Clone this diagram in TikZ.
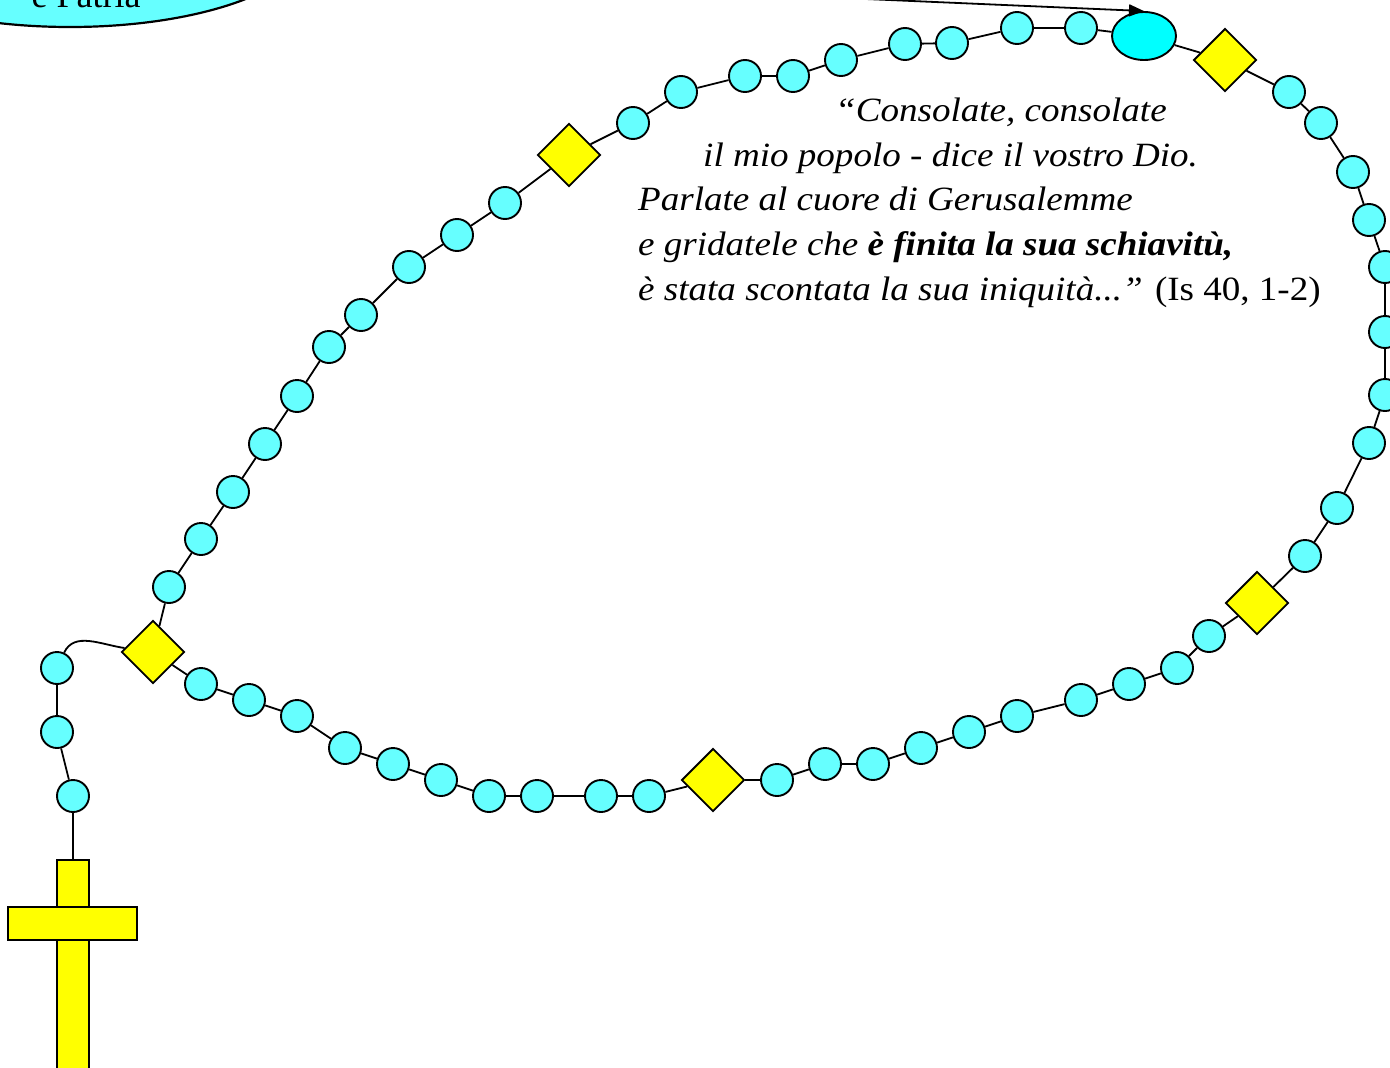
\documentclass[tikz,border=0pt]{standalone}
\usepackage{fontspec}
\setmainfont{Liberation Serif}
\newfontfamily\quotefont{Liberation Serif}[FakeStretch=1.09]
\usetikzlibrary{shapes.geometric,arrows.meta,backgrounds}

\definecolor{beadcyan}{HTML}{66FFFF}
\definecolor{bigcyan}{HTML}{00FFFF}
\definecolor{goldyellow}{HTML}{FFFF00}

\tikzset{
  bead/.style={circle,draw,line width=1.9pt,fill=beadcyan,minimum size=32pt,inner sep=0pt},
  bigbead/.style={ellipse,draw,line width=1.9pt,fill=bigcyan,minimum width=64pt,minimum height=48pt,inner sep=0pt},
  gloria/.style={diamond,draw,line width=1.9pt,fill=goldyellow,minimum size=63pt,inner sep=0pt},
  crossbar/.style={rectangle,draw,line width=1.9pt,fill=goldyellow,inner sep=0pt},
  string/.style={line width=1.8pt},
}

\begin{document}
\begin{tikzpicture}[x=1pt,y=-1pt]
  \useasboundingbox (0,0) rectangle (1390,1068);

  % label bubble, mostly above the page
  \node[ellipse,draw,line width=2.2pt,fill=beadcyan,minimum width=478pt,minimum height=174pt] (famiglia) at (70,-60) {};
  \node[anchor=base,inner sep=0pt,font=\fontsize{36}{40}\selectfont] (patria) at (86,7) {e Patria};

  % gloria beads
  \node[gloria] (d1) at (153,652) {};
  \node[gloria] (d2) at (569,155) {};
  \node[gloria] (d3) at (1225,60) {};
  \node[gloria] (d4) at (1257,603) {};
  \node[gloria] (d5) at (713,780) {};
  \node[bigbead] (big) at (1144,36) {};

  % decades
  \foreach \x/\y [count=\i] in {169/587, 201/539, 233/492, 265/444, 297/396,
      329/347, 361/315, 409/267, 457/235, 505/203,
      633/123, 681/92, 745/76, 793/76, 841/60,
      905/44, 952/43, 1017/28, 1081/28,
      1289/92, 1321/123, 1353/172, 1369/220, 1385/267,
      1385/332, 1385/395, 1369/443, 1337/508, 1305/556,
      1209/636, 1177/668, 1129/684, 1081/700, 1017/716,
      969/732, 921/748, 873/764, 825/764, 777/780,
      649/796, 601/796, 537/796, 489/796, 441/780,
      393/764, 345/748, 297/716, 249/700, 201/684}
    \node[bead] (b\i) at (\x,\y) {};

  % pendant
  \node[bead] (p1) at (57,668) {};
  \node[bead] (p2) at (57,732) {};
  \node[bead] (p3) at (73,796) {};
  \node[crossbar,anchor=north,minimum width=32pt,minimum height=220pt] (crossv) at (73,859) {};
  \node[crossbar,minimum width=129pt,minimum height=33pt] (crossh) at (72.5,923.5) {};

  \begin{scope}[on background layer]
    \foreach \a [remember=\a as \prev (initially d1)] in
        {b1,b2,b3,b4,b5,b6,b7,b8,b9,b10,d2,
         b11,b12,b13,b14,b15,b16,b17,b18,b19,big,d3,
         b20,b21,b22,b23,b24,b25,b26,b27,b28,b29,d4,
         b30,b31,b32,b33,b34,b35,b36,b37,b38,b39,d5,
         b40,b41,b42,b43,b44,b45,b46,b47,b48,b49,d1}
      \draw[string] (\prev) -- (\a);
    \draw[string] (d1) to[out=172,in=65] (p1) -- (p2) -- (p3) -- (crossv.north);
  \end{scope}

  % arrow from the label
  \coordinate (arrowfrom) at (600,-12.5);
  \draw[line width=1.8pt,-{Triangle[length=15pt,width=12pt]}] (arrowfrom) -- (big.north);

  \node[anchor=base west,align=left,inner sep=0pt,font=\quotefont\fontsize{34}{44.6}\selectfont\itshape] (quote) at (638,300)
    {\hspace*{197pt}“Consolate, consolate\\
     \hspace*{65pt}il mio popolo - dice il vostro Dio.\\
     Parlate al cuore di Gerusalemme\\
     e gridatele che \textbf{è finita la sua schiavitù,}\\
     è stata scontata la sua iniquità...” {\upshape(Is 40, 1-2)}};
\end{tikzpicture}
\end{document}
